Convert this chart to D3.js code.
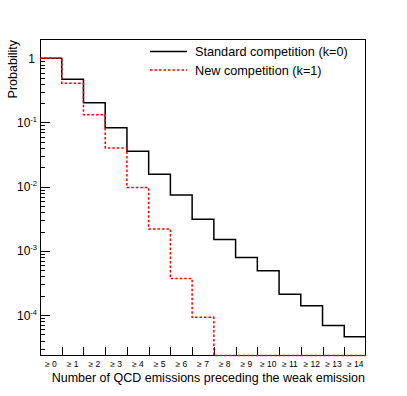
<!DOCTYPE html>
<html>
<head>
<meta charset="utf-8">
<script src="https://cdn.jsdelivr.net/npm/d3@7"></script>
<style>
  body { margin: 0; background: #fff; }
  text { font-family: "Liberation Sans", Arial, sans-serif; }
</style>
</head>
<body>
<div id="chart"></div>
<script>
var canvas_width = 407,
    canvas_height = 396;

// bins: "≥ n" emissions
var binLabels = ["\u2265 0", "\u2265 1", "\u2265 2", "\u2265 3", "\u2265 4", "\u2265 5", "\u2265 6", "\u2265 7",
                 "\u2265 8", "\u2265 9", "\u2265 10", "\u2265 11", "\u2265 12", "\u2265 13", "\u2265 14"];

// Standard competition (k=0)
var standardValues = [1.0, 0.47, 0.203, 0.083, 0.0356, 0.0156, 0.0074, 0.0031,
                      0.0015, 0.00079, 0.00049, 0.00021, 0.00014, 0.000069, 0.000046];

// New competition (k=1)
var newValues = [1.0, 0.41, 0.132, 0.040, 0.0097, 0.0022, 0.00037, 0.000092,
                 0, 0, 0, 0, 0, 0, 0];

var legendKeys = ["Standard competition (k=0)", "New competition (k=1)"];
var yDecades = [1, 0.1, 0.01, 0.001, 0.0001];

var frame = { left: 40, right: 366, top: 39, bottom: 356 };

var svg = d3.select("div#chart")
    .append("svg")
    .attr("width", canvas_width)
    .attr("height", canvas_height);

var xScale = d3.scaleLinear()
    .domain([0, binLabels.length])
    .range([frame.left, frame.right]);

var yMin = 2.3e-5, yMax = 2;
var yScale = d3.scaleLog()
    .domain([yMin, yMax])
    .range([frame.bottom, frame.top]);

// Frame
svg.append("rect")
    .attr("x", frame.left + 0.5)
    .attr("y", frame.top + 0.5)
    .attr("width", frame.right - frame.left - 1)
    .attr("height", frame.bottom - frame.top - 1)
    .attr("fill", "none")
    .attr("stroke", "#000")
    .attr("stroke-width", 1);

// y ticks (log, major + minor), drawn inward
var yTicks = [];
yDecades.forEach(function (d) {
    for (var m = 1; m <= 9; m++) {
        var v = d * m;
        if (v > yMin && v < yMax) yTicks.push({ v: v, major: m === 1 });
    }
});
// minor ticks below lowest decade
for (var m = 2; m <= 9; m++) {
    var v = 1e-5 * m;
    if (v > yMin) yTicks.push({ v: v, major: false });
}

svg.selectAll(".ytick")
    .data(yTicks)
    .enter()
    .append("line")
    .attr("x1", frame.left)
    .attr("x2", d => frame.left + (d.major ? 10 : 5))
    .attr("y1", d => Math.round(yScale(d.v)) + 0.5)
    .attr("y2", d => Math.round(yScale(d.v)) + 0.5)
    .attr("stroke", "#000")
    .attr("stroke-width", 1);

// y labels
var yLab = svg.selectAll(".ylabel")
    .data(yDecades)
    .enter()
    .append("text")
    .attr("x", d => d === 1 ? 35 : 31)
    .attr("y", d => yScale(d) + 4.5)
    .attr("text-anchor", "end")
    .style("font-size", "12px");

yLab.filter(d => d === 1).text("1");
yLab.filter(d => d !== 1).each(function (d) {
    var t = d3.select(this);
    t.append("tspan").text("10");
    t.append("tspan")
        .attr("dy", -5)
        .style("font-size", "7.5px")
        .text("-" + Math.round(-Math.log10(d)));
});
yLab.filter(d => d !== 1).attr("text-anchor", "start").attr("x", 17);

// x ticks at bin edges
svg.selectAll(".xtick")
    .data(d3.range(1, binLabels.length))
    .enter()
    .append("line")
    .attr("x1", d => Math.round(xScale(d)) + 0.5)
    .attr("x2", d => Math.round(xScale(d)) + 0.5)
    .attr("y1", frame.bottom)
    .attr("y2", frame.bottom - 9)
    .attr("stroke", "#000")
    .attr("stroke-width", 1);

// x labels
svg.selectAll(".xlabel")
    .data(binLabels)
    .enter()
    .append("text")
    .attr("x", (d, i) => xScale(i + 0.5))
    .attr("y", 367)
    .attr("text-anchor", "middle")
    .style("font-size", "8.5px")
    .text(d => d);

// Axis titles
svg.append("text")
    .attr("x", frame.right - 1)
    .attr("y", 382)
    .attr("text-anchor", "end")
    .style("font-size", "12.5px")
    .text("Number of QCD emissions preceding the weak emission");

svg.append("text")
    .attr("transform", "translate(16.5," + (frame.top + 1) + ") rotate(-90)")
    .attr("text-anchor", "end")
    .style("font-size", "12.5px")
    .text("Probability");

// Histograms
function histPoints(values) {
    var pts = values.map((v, i) => [i, v]);
    pts.push([values.length, values[values.length - 1]]);
    return pts;
}

var histLine = d3.line()
    .curve(d3.curveStepAfter)
    .x(d => xScale(d[0]))
    .y(d => d[1] > yMin ? yScale(d[1]) : frame.bottom - 0.5);

svg.append("path")
    .attr("d", histLine(histPoints(standardValues)))
    .attr("fill", "none")
    .attr("stroke", "#000")
    .attr("stroke-width", 1.5);

svg.append("path")
    .attr("d", histLine(histPoints(newValues)))
    .attr("fill", "none")
    .attr("stroke", "#ff0000")
    .attr("stroke-width", 1.5)
    .attr("stroke-dasharray", "2.5,2");

// Legend
var legendStyles = [
    { color: "#000", dash: null },
    { color: "#ff0000", dash: "2.5,2" }
];

svg.selectAll(".legend-line")
    .data(legendKeys)
    .enter()
    .append("line")
    .attr("x1", 150)
    .attr("x2", 187)
    .attr("y1", (d, i) => 51.5 + i * 18.5)
    .attr("y2", (d, i) => 51.5 + i * 18.5)
    .attr("stroke", (d, i) => legendStyles[i].color)
    .attr("stroke-width", 1.5)
    .attr("stroke-dasharray", (d, i) => legendStyles[i].dash);

svg.selectAll(".legend-text")
    .data(legendKeys)
    .enter()
    .append("text")
    .attr("x", 195)
    .attr("y", (d, i) => 56 + i * 18.5)
    .style("font-size", "12.7px")
    .text(d => d);
</script>
</body>
</html>
